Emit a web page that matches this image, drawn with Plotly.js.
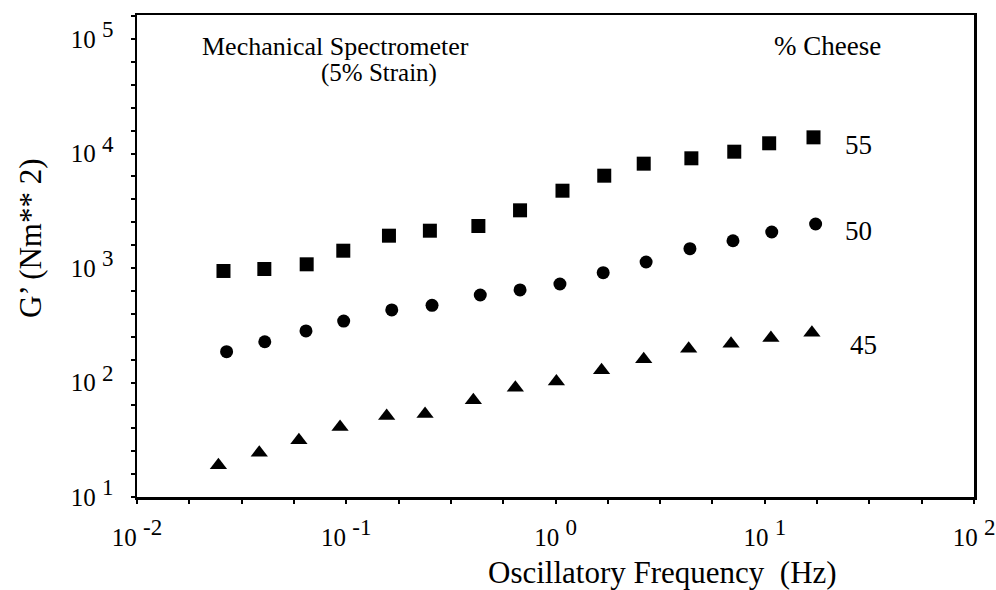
<!DOCTYPE html>
<html>
<head>
<meta charset="utf-8">
<script src="https://cdn.plot.ly/plotly-3.0.1.min.js"></script>
<style>html,body{margin:0;padding:0;background:#fff;}#chart{width:996px;height:590px;}</style>
</head>
<body>
<div id="chart"></div>
<script>
// Oscillatory frequency (Hz) read per series
const freq55 = [0.0259, 0.0406, 0.0647, 0.0968, 0.160, 0.251, 0.428, 0.677, 1.08, 1.71, 2.64, 4.46, 7.15, 10.5, 17.1];
const freq50 = [0.0268, 0.0408, 0.0642, 0.0972, 0.165, 0.257, 0.437, 0.677, 1.05, 1.69, 2.71, 4.39, 7.05, 10.8, 17.5];
const freq45 = [0.0245, 0.0384, 0.0594, 0.0934, 0.156, 0.238, 0.405, 0.643, 1.01, 1.66, 2.64, 4.33, 6.90, 10.7, 16.8];
// G' (N m^-2)
const g55 = [942, 980, 1077, 1416, 1915, 2117, 2327, 3190, 4733, 6400, 8150, 9080, 10370, 12280, 13840];
const g50 = [186, 227, 282, 344, 430, 472, 581, 643, 725, 910, 1128, 1475, 1730, 2062, 2422];
const g45 = [18.9, 24.4, 31.3, 40.9, 51, 53.1, 70, 90.1, 102, 128, 160, 197, 218, 245, 272];

const seriesNames = ['55', '50', '45'];
const xTickVals = [0.01, 0.1, 1, 10, 100];
const xExponents = ['-2', '-1', '0', '1', '2'];
const yTickVals = [10, 100, 1000, 10000, 100000];
const yExponents = ['1', '2', '3', '4', '5'];

const FONT = 'Liberation Serif, Times New Roman, serif';
const expText = e => '10 <sup><span style="font-size:23px">' + e + '</span></sup>';

function minorVals(k0, k1, steps) {
  const out = [];
  for (let k = k0; k < k1; k++) for (let s = 1; s < steps; s++) out.push(Math.pow(10, k + s / steps));
  return out;
}

const traces = [
  {x: freq55, y: g55, name: seriesNames[0], mode: 'markers', type: 'scatter',
   marker: {symbol: 'square', size: 14, color: '#000', line: {width: 0}}},
  {x: freq50, y: g50, name: seriesNames[1], mode: 'markers', type: 'scatter',
   marker: {symbol: 'circle', size: 13, color: '#000', line: {width: 0}}},
  {x: freq45, y: g45, name: seriesNames[2], mode: 'markers', type: 'scatter',
   marker: {symbol: 'triangle-up', size: 15, color: '#000', line: {width: 0}}}
];

const L = 137, R = 974, T = 15, B = 497;
const px = v => (v - L) / (R - L);
const py = v => (B - v) / (B - T);

const layout = {
  width: 996, height: 590,
  margin: {l: L, r: 996 - R, t: T, b: 590 - B},
  paper_bgcolor: '#fff', plot_bgcolor: '#fff',
  showlegend: false,
  font: {family: FONT, color: '#000', size: 25},
  xaxis: {
    type: 'log', range: [-2, 2],
    tickmode: 'array', tickvals: xTickVals, ticktext: xExponents.map(expText),
    ticks: 'outside', ticklen: 4, tickwidth: 2, tickcolor: '#000',
    ticklabelstandoff: 12,
    showline: true, linewidth: 2.5, linecolor: '#000', mirror: true,
    showgrid: false, zeroline: false,
    tickfont: {family: FONT, size: 25, color: '#000'},
    minor: {tickmode: 'array', tickvals: minorVals(-2, 2, 4), ticks: 'outside', ticklen: 4, tickwidth: 2, tickcolor: '#000', showgrid: false}
  },
  yaxis: {
    type: 'log', range: [1, 1 + (B - T) / 114.5],
    tickmode: 'array', tickvals: yTickVals, ticktext: yExponents.map(expText),
    ticks: 'outside', ticklen: 4, tickwidth: 2, tickcolor: '#000',
    ticklabelstandoff: 12,
    showline: true, linewidth: 2.5, linecolor: '#000', mirror: true,
    showgrid: false, zeroline: false,
    tickfont: {family: FONT, size: 25, color: '#000'},
    minor: {tickmode: 'array', tickvals: minorVals(1, 6, 5), ticks: 'outside', ticklen: 4, tickwidth: 2, tickcolor: '#000', showgrid: false}
  },
  annotations: [
    {text: 'Mechanical Spectrometer', xref: 'paper', yref: 'paper', x: px(200), y: py(46), xanchor: 'left', yanchor: 'middle', showarrow: false, font: {family: FONT, size: 26, color: '#000'}},
    {text: '(5% Strain)', xref: 'paper', yref: 'paper', x: px(378.5), y: py(73), xanchor: 'center', yanchor: 'middle', showarrow: false, font: {family: FONT, size: 25, color: '#000'}},
    {text: '% Cheese', xref: 'paper', yref: 'paper', x: px(827.5), y: py(46), xanchor: 'center', yanchor: 'middle', showarrow: false, font: {family: FONT, size: 27, color: '#000'}},
    {text: seriesNames[0], xref: 'paper', yref: 'paper', x: px(858.5), y: py(145), xanchor: 'center', yanchor: 'middle', showarrow: false, font: {family: FONT, size: 27, color: '#000'}},
    {text: seriesNames[1], xref: 'paper', yref: 'paper', x: px(858.5), y: py(231), xanchor: 'center', yanchor: 'middle', showarrow: false, font: {family: FONT, size: 27, color: '#000'}},
    {text: seriesNames[2], xref: 'paper', yref: 'paper', x: px(863.5), y: py(345), xanchor: 'center', yanchor: 'middle', showarrow: false, font: {family: FONT, size: 27, color: '#000'}},
    {text: 'Oscillatory Frequency&nbsp; (Hz)', xref: 'paper', yref: 'paper', x: px(662.5), y: py(572), xanchor: 'center', yanchor: 'middle', showarrow: false, font: {family: FONT, size: 31, color: '#000'}},
    {text: 'G\u2019 (Nm** 2)', xref: 'paper', yref: 'paper', x: px(30), y: py(238), xanchor: 'center', yanchor: 'middle', textangle: -90, showarrow: false, font: {family: FONT, size: 31, color: '#000'}}
  ]
};

Plotly.newPlot('chart', traces, layout, {staticPlot: true, displayModeBar: false});
</script>
</body>
</html>
